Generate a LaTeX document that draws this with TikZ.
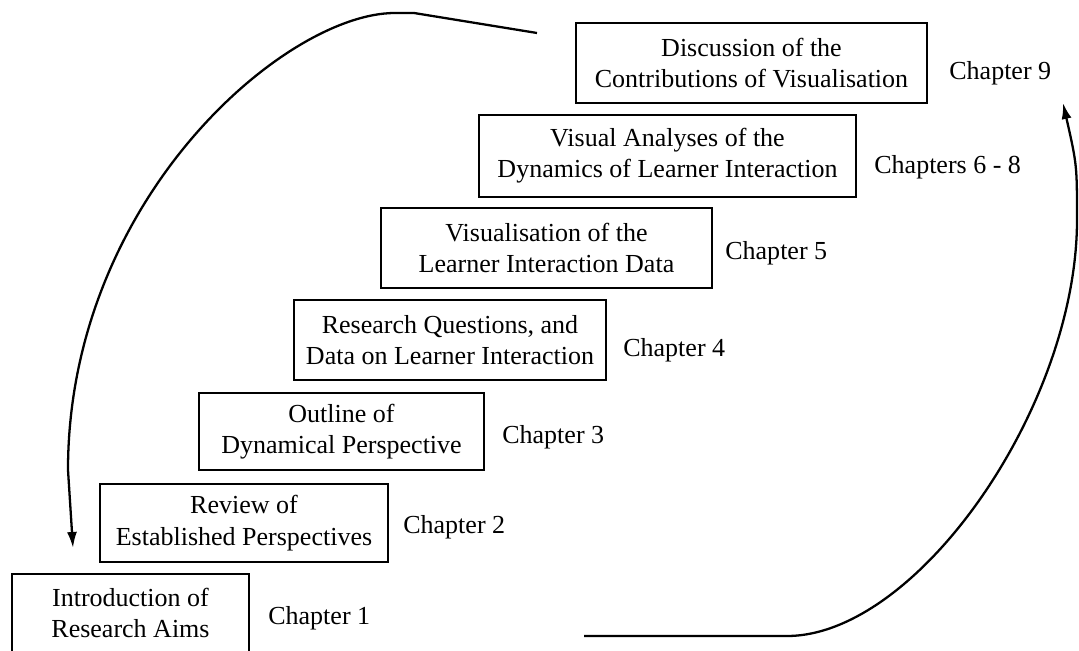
\documentclass[tikz,border=0pt]{standalone}
\usepackage{fontspec}
\setmainfont{Liberation Serif}
\usetikzlibrary{arrows.meta}
\newcommand{\chapfont}{\fontsize{14.8}{17.8}\selectfont}
\tikzset{
  chapbox/.style={draw, line width=1.2pt, align=center, inner sep=0pt, font=\chapfont},
  thinbox/.style={chapbox, line width=0.7pt},
  chaplabel/.style={anchor=west, inner sep=0pt, font=\chapfont},
  backarrow/.style={line width=1.3pt, -{Latex[length=3.2mm,width=2mm]}}
}
\begin{document}
\begin{tikzpicture}[x=0.02cm, y=-0.02cm]
    \useasboundingbox (0, 0) rectangle (1079, 651);
    \clip (0, 0) rectangle (1079, 651);

    % the steps
    \node[thinbox, minimum width=4.74cm, minimum height=1.56cm] (intro) at (130.5, 613) {Introduction of\\Research Aims};
    \node[chapbox, minimum width=5.76cm, minimum height=1.56cm] (review) at (244, 523) {Review of\\Established Perspectives};
    \node[chapbox, minimum width=5.7cm, minimum height=1.54cm] (outline) at (341.5, 431.5) {Outline of\\Dynamical Perspective};
    \node[thinbox, minimum width=6.24cm, minimum height=1.6cm] (questions) at (450, 340) {Research Questions, and\\Data on Learner Interaction};
    \node[chapbox, minimum width=6.62cm, minimum height=1.6cm] (visdata) at (546.5, 248) {Visualisation of the\\Learner Interaction Data};
    \node[chapbox, line width=0.9pt, minimum width=7.54cm, minimum height=1.64cm] (analyses) at (667.5, 156) {Visual Analyses of the\\Dynamics of Learner Interaction};
    \node[chapbox, minimum width=7.02cm, minimum height=1.6cm] (discussion) at (751.5, 63) {Discussion of the\\Contributions of Visualisation};

    \node[chaplabel] (ch1) at (268, 618) {Chapter 1};
    \node[chaplabel] (ch2) at (403, 527) {Chapter 2};
    \node[chaplabel] (ch3) at (502, 437) {Chapter 3};
    \node[chaplabel] (ch4) at (623, 350) {Chapter 4};
    \node[chaplabel] (ch5) at (725, 253) {Chapter 5};
    \node[chaplabel] (ch68) at (874, 167) {Chapters 6 - 8};
    \node[chaplabel] (ch9) at (949, 73) {Chapter 9};

    % the two arrows round the steps
    \coordinate (topstart) at (537, 33);
    \coordinate (leftend) at (73, 548);
    \coordinate (botstart) at (584, 636);
    \coordinate (rightend) at (1063, 103);

    \draw[backarrow] (topstart) -- (414, 13) -- (395, 13)
        .. controls (285, 13) and (68, 200) .. (68, 470) -- (leftend);
    \draw[backarrow] (botstart) -- (787, 636)
        .. controls (917, 636) and (1077, 407) .. (1077, 220)
        .. controls (1077, 165) .. (rightend);
\end{tikzpicture}
\end{document}
